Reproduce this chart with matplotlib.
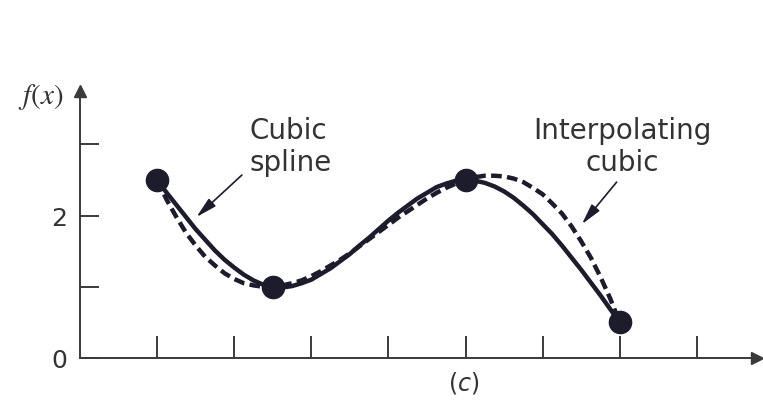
import matplotlib
matplotlib.use("Agg")
import matplotlib.pyplot as plt

# data points
pt_x = [1.0, 2.5, 5.0, 7.0]
pt_y = [2.5, 1.0, 2.5, 0.5]

# curves at 0.125 steps
curve_x = [1.0, 1.125, 1.25, 1.375, 1.5, 1.625, 1.75, 1.875,
           2.0, 2.125, 2.25, 2.375, 2.5, 2.625, 2.75, 2.875,
           3.0, 3.125, 3.25, 3.375, 3.5, 3.625, 3.75, 3.875,
           4.0, 4.125, 4.25, 4.375, 4.5, 4.625, 4.75, 4.875,
           5.0, 5.125, 5.25, 5.375, 5.5, 5.625, 5.75, 5.875,
           6.0, 6.125, 6.25, 6.375, 6.5, 6.625, 6.75, 6.875, 7.0]
spline_y = [2.50, 2.32, 2.15, 1.98, 1.81, 1.66, 1.51, 1.38,
            1.27, 1.17, 1.09, 1.03, 1.00, 0.99, 1.01, 1.05,
            1.10, 1.18, 1.26, 1.36, 1.46, 1.58, 1.69, 1.81,
            1.93, 2.04, 2.14, 2.24, 2.32, 2.40, 2.45, 2.49,
            2.50, 2.49, 2.46, 2.41, 2.34, 2.25, 2.14, 2.02,
            1.88, 1.74, 1.58, 1.41, 1.24, 1.06, 0.88, 0.69, 0.50]
interp_y = [2.50, 2.22, 1.98, 1.76, 1.58, 1.42, 1.30, 1.19,
            1.11, 1.05, 1.02, 1.00, 1.00, 1.02, 1.05, 1.09,
            1.15, 1.22, 1.30, 1.38, 1.47, 1.57, 1.67, 1.77,
            1.87, 1.97, 2.06, 2.15, 2.24, 2.32, 2.39, 2.45,
            2.50, 2.54, 2.56, 2.56, 2.55, 2.52, 2.47, 2.39,
            2.30, 2.17, 2.03, 1.85, 1.64, 1.41, 1.14, 0.84, 0.50]

x_ticks = [1, 2, 3, 4, 5, 6, 7, 8]
y_ticks = [0, 1, 2, 3]
y_tick_labels = ['0', '', '2', '']

ink = '#1c1c2c'
axc = '#3a3a3a'
txt = '#333333'

W, H = 763, 410
fig = plt.figure(figsize=(W / 100, H / 100), dpi=100)
x0, y0 = 80, 359          # origin in pixels
xend, yend = 757, 92      # arrow ends in pixels
ax = fig.add_axes([x0 / W, (H - y0) / H, (xend - x0) / W, (y0 - yend) / H])
ax.set_xlim(0, (xend - x0) / 77.1)
ax.set_ylim(0, (y0 - yend) / 71.2)

for s in ['top', 'right']:
    ax.spines[s].set_visible(False)
for s in ['left', 'bottom']:
    ax.spines[s].set_color(axc)
    ax.spines[s].set_linewidth(1.4)

ax.set_xticks(x_ticks)
ax.set_yticks(y_ticks)
ax.set_yticklabels(y_tick_labels)
ax.tick_params(axis='x', direction='in', length=16, width=1.4, color=axc, labelbottom=False)
ax.tick_params(axis='y', direction='in', length=14, width=1.4, color=axc,
               labelsize=18, labelcolor=txt, pad=9)

# axis arrow heads
ax.plot(1, 0, '>', color=axc, ms=9, transform=ax.transAxes, clip_on=False)
ax.plot(0, 1, '^', color=axc, ms=9, transform=ax.transAxes, clip_on=False)

ax.plot(curve_x, interp_y, color=ink, lw=3.2, dashes=(2.4, 1.2), zorder=3)
ax.plot(curve_x, spline_y, color=ink, lw=3.2, zorder=4)
ax.plot(pt_x, pt_y, 'o', color=ink, ms=16, zorder=5)

arrow = dict(arrowstyle='-|>,head_width=0.22,head_length=0.9', color=ink, lw=1.2,
             shrinkA=0, shrinkB=0, mutation_scale=14)
ax.annotate('', xy=(1.51, 1.98), xytext=(2.10, 2.57), arrowprops=arrow, zorder=6)
ax.annotate('', xy=(6.51, 1.88), xytext=(6.96, 2.47), arrowprops=arrow, zorder=6)

ax.text(2.2, 2.98, 'Cubic\nspline', ha='left', va='center', fontsize=20, color=txt)
ax.text(7.03, 2.98, 'Interpolating\ncubic', ha='center', va='center',
        multialignment='center', fontsize=20, color=txt)

fig.text(41 / W, 1 - 97 / H, r'$f(x)$', ha='center', va='center', fontsize=21,
         math_fontfamily='stix', color=txt)
fig.text(464 / W, 1 - 383 / H, r'($\it{c}$)', ha='center', va='center', fontsize=17, color=txt)

fig.savefig('out.png', dpi=100)
